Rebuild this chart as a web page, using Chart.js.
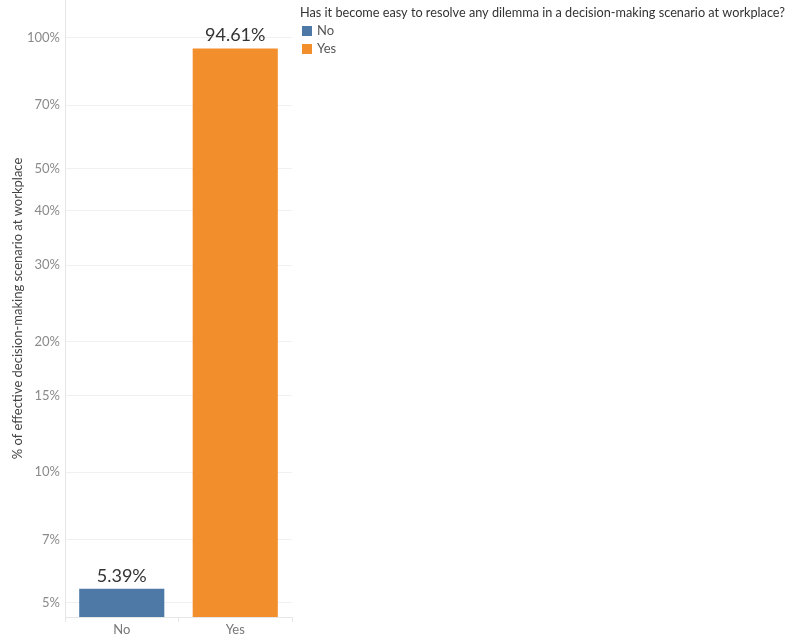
<!DOCTYPE html>
<html>
<head>
<meta charset="utf-8">
<script src="https://cdn.jsdelivr.net/npm/chart.js@4"></script>
<style>
  html, body { margin: 0; padding: 0; background: #fff; }
  #wrap { width: 792px; height: 641px; }
</style>
</head>
<body>
<div id="wrap"><canvas id="myChart" width="792" height="641"></canvas></div>
<script>
// survey answers and their share of respondents
const answers = ["No", "Yes"];
const shares = [5.39, 94.61];
const answerColors = ["#4e79a7", "#f28e2b"];
const yTicks = [5, 7, 10, 15, 20, 30, 40, 50, 70, 100];

const legendTitle = "Has it become easy to resolve any dilemma in a decision-making scenario at workplace?";
const yTitle = "% of effective decision-making scenario at workplace";

const FONT = "Lato, 'Noto Sans', sans-serif";

// value labels above each bar
const barLabels = {
    id: "barLabels",
    afterDatasetsDraw(chart) {
        const ctx = chart.ctx;
        const meta = chart.getDatasetMeta(0);
        ctx.save();
        ctx.font = "18px " + FONT;
        ctx.fillStyle = "#333";
        ctx.textAlign = "center";
        ctx.textBaseline = "bottom";
        meta.data.forEach((bar, i) => {
            ctx.fillText(shares[i].toFixed(2) + "%", bar.x, bar.y - 4);
        });
        ctx.restore();
    }
};

// legend on the right, drawn by hand
const sideLegend = {
    id: "sideLegend",
    afterDraw(chart) {
        const ctx = chart.ctx;
        ctx.save();
        // shrink the title until it fits beside the plot
        let size = 13;
        ctx.font = size + "px " + FONT;
        while (ctx.measureText(legendTitle).width > 488 && size > 9) {
            size -= 0.1;
            ctx.font = size + "px " + FONT;
        }
        ctx.fillStyle = "#333";
        ctx.textBaseline = "middle";
        ctx.fillText(legendTitle, 300, 13);
        ctx.font = "13px " + FONT;
        answers.forEach((a, i) => {
            const y = 31 + i * 18;
            ctx.fillStyle = answerColors[i];
            ctx.fillRect(302, y - 5, 10, 10);
            ctx.fillStyle = "#555";
            ctx.fillText(a, 317, y);
        });
        ctx.restore();
    }
};

const ctx = document.getElementById("myChart").getContext("2d");

const myChart = new Chart(ctx, {
    type: "bar",
    data: {
        labels: answers,
        datasets: [
            {
                data: shares,
                backgroundColor: answerColors,
                barPercentage: 0.75,
                categoryPercentage: 1
            }
        ]
    },
    options: {
        responsive: false,
        animation: false,
        layout: { padding: { top: 0, right: 500, bottom: 0, left: 10 } },
        plugins: {
            legend: { display: false },
            tooltip: { enabled: false }
        },
        scales: {
            x: {
                offset: true,
                grid: {
                    offset: true,
                    drawOnChartArea: false,
                    tickLength: 5,
                    color: "#e6e6e6"
                },
                border: { color: "#e6e6e6" },
                ticks: {
                    color: "#777",
                    font: { family: FONT, size: 13 },
                    padding: 0
                },
                afterFit(scale) {
                    scale.height = 24;
                    scale.paddingLeft = 0;
                    scale.paddingRight = 0;
                }
            },
            y: {
                type: "logarithmic",
                min: 4.64,
                max: 122.3,
                afterBuildTicks(scale) {
                    scale.ticks = yTicks.map(v => ({ value: v }));
                },
                afterFit(scale) {
                    scale.width = 55;
                    scale.paddingTop = 0;
                    scale.paddingBottom = 0;
                },
                grid: { color: "#f0f0f0", drawTicks: false },
                border: { color: "#e6e6e6" },
                ticks: {
                    color: "#8a8a8a",
                    font: { family: FONT, size: 13 },
                    padding: 5,
                    callback: v => v + "%"
                },
                title: {
                    display: true,
                    text: yTitle,
                    color: "#444",
                    font: { family: FONT, size: 13 },
                    padding: { top: 0, bottom: 0 }
                }
            }
        }
    },
    plugins: [barLabels, sideLegend]
});
</script>
</body>
</html>
